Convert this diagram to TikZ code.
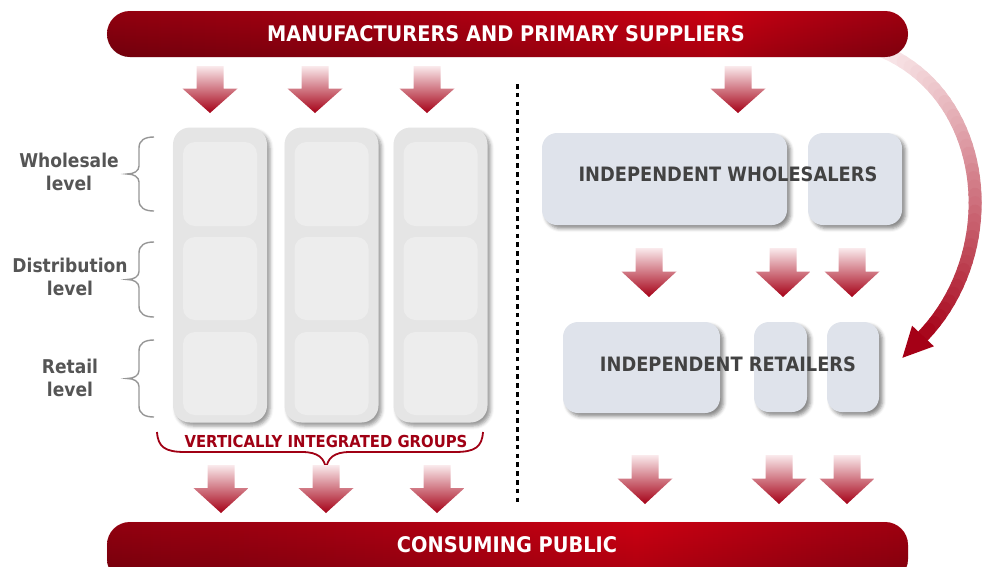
\documentclass[tikz,border=0pt]{standalone}
\usepackage{fontspec}
\setmainfont{DejaVu Sans}[FakeStretch=0.9]
\usetikzlibrary{shadows.blur}

% palette
\definecolor{barA}{RGB}{135,0,15}
\definecolor{barB}{RGB}{163,0,18}
\definecolor{barHi}{RGB}{202,0,18}
\definecolor{barC}{RGB}{150,0,16}
\definecolor{arrtop}{RGB}{250,234,236}
\definecolor{arrbot}{RGB}{165,0,22}
\definecolor{colfill}{RGB}{229,229,229}
\definecolor{cellfill}{RGB}{237,237,237}
\definecolor{boxfill}{RGB}{223,227,235}
\definecolor{labelgray}{RGB}{85,85,85}
\definecolor{boxtext}{RGB}{66,66,66}
\definecolor{bracegray}{RGB}{150,150,150}
\definecolor{groupred}{RGB}{160,0,20}

% horizontal shadings for the two banners (path is mapped onto 25bp..75bp)
\pgfdeclarehorizontalshading{topbar}{100bp}{color(0bp)=(barA); color(25bp)=(barA);
  color(45bp)=(barB); color(63bp)=(barHi); color(71bp)=(barB); color(75bp)=(barC); color(100bp)=(barC)}
\pgfdeclarehorizontalshading{botbar}{100bp}{color(0bp)=(barA); color(25bp)=(barA);
  color(42bp)=(barB); color(58bp)=(barHi); color(70bp)=(barB); color(75bp)=(barC); color(100bp)=(barC)}

\tikzset{
  banner/.style={rounded corners=23pt, inner sep=0pt},
  bannergloss/.style={rounded corners=23pt, top color=barHi, bottom color=black, opacity=0.16},
  bannertext/.style={text=white, font=\bfseries\fontsize{21.5}{24}\selectfont},
  column/.style={draw=none, fill=colfill, rounded corners=17pt, inner sep=0pt,
    blur shadow={shadow xshift=3pt, shadow yshift=-3.5pt, shadow blur radius=3.5pt, shadow opacity=40}},
  cell/.style={draw=none, fill=cellfill, rounded corners=12pt, inner sep=0pt},
  indbox/.style={draw=none, fill=boxfill, rounded corners=15pt, inner sep=0pt,
    blur shadow={shadow xshift=3.5pt, shadow yshift=-3.5pt, shadow blur radius=3.5pt, shadow opacity=45}},
  boxlabel/.style={text=boxtext, font=\bfseries\fontsize{19.8}{22}\selectfont},
  levellabel/.style={text=labelgray, align=center, font=\bfseries\fontsize{19}{23}\selectfont},
  levelbrace/.style={draw=bracegray, line width=1.4pt},
  pics/dnarrow/.style={code={
    \shade[top color=arrtop, bottom color=arrbot]
      (-13.5,0) -- (13.5,0) -- (13.5,0.48*#1) -- (27.5,0.48*#1) -- (0,#1)
      -- (-27.5,0.48*#1) -- (-13.5,0.48*#1) -- cycle;
  }},
}

\begin{document}
\begin{tikzpicture}[x=1pt,y=-1pt]
\clip (0,0) rectangle (991,566);

% ---- bypass arrow from the suppliers straight to the retailers
\path (880,50) .. controls (990,95) and (1005,250) .. (923,336)
  \foreach \i in {0,...,40} { coordinate[pos=\i/40] (q\i) };
\foreach \i in {0,...,39} {
  \pgfmathtruncatemacro\j{\i+1}
  \pgfmathtruncatemacro\p{100*(\i/40)^1.15}
  \draw[line width=13pt, line cap=round, draw=arrbot!\p!arrtop] (q\i) -- (q\j);
}
\coordinate (headL) at (912.1,325.7);
\coordinate (headR) at (933.9,346.3);
\coordinate (headTip) at (902.4,357.8);
\fill[arrbot] (headL) -- (headTip) -- (headR) -- cycle;

% ---- banners
\node[banner, minimum width=801pt, minimum height=46pt, shading=topbar, shade] (top) at (507.5,34) {};
\shade[bannergloss] (top.north west) rectangle (top.south east);
\node[bannertext] (toptext) at (506,34) {MANUFACTURERS AND PRIMARY SUPPLIERS};
\node[banner, minimum width=801pt, minimum height=60pt, shading=botbar, shade] (bottom) at (507.5,552) {};
\shade[bannergloss] (bottom.north west) rectangle (bottom.south east);
\node[bannertext] (bottext) at (507,545) {CONSUMING PUBLIC};

% ---- vertically integrated groups
\foreach \n/\cx in {1/220, 2/331.5, 3/440.5} {
  \node[column, minimum width=94pt, minimum height=295pt] (col\n) at (\cx,275) {};
  \node[cell, minimum width=74pt, minimum height=84pt] (cellW\n) at (\cx,184) {};
  \node[cell, minimum width=74pt, minimum height=83pt] (cellD\n) at (\cx,278.5) {};
  \node[cell, minimum width=74pt, minimum height=83pt] (cellR\n) at (\cx,373.5) {};
}

% ---- level braces and labels
\foreach \n/\ya/\yb in {1/137/211, 2/242/317, 3/340/417} {
  \pgfmathsetmacro\ym{(\ya+\yb)/2}
  \draw[levelbrace] (154,\ya) .. controls (145,\ya) and (139,\ya+3) .. (139,\ya+11)
    -- (139,\ym-8) .. controls (139,\ym-3) and (134,\ym) .. (127,\ym)
    .. controls (134,\ym) and (139,\ym+3) .. (139,\ym+8)
    -- (139,\yb-11) .. controls (139,\yb-3) and (145,\yb) .. (154,\yb);
}
\node[levellabel] (lvW) at (69,172) {Wholesale\\level};
\node[levellabel] (lvD) at (70,277) {Distribution\\level};
\node[levellabel] (lvR) at (70,378) {Retail\\level};

% ---- group brace and caption
\draw[draw=groupred, line width=1.8pt]
  (157,432) .. controls (158,447) and (165,452) .. (185,452) -- (302,452)
  .. controls (318,452) and (325,458) .. (326,470)
  .. controls (327,458) and (334,452) .. (350,452) -- (455,452)
  .. controls (475,452) and (482,447) .. (483,432);
\node[text=groupred, font=\bfseries\fontsize{16.5}{18}\selectfont] (vig) at (326,441) {VERTICALLY INTEGRATED GROUPS};

% ---- independent channel
\node[indbox, minimum width=245pt, minimum height=92pt] (wA) at (664.5,179) {};
\node[indbox, minimum width=94pt, minimum height=92pt] (wB) at (855,179) {};
\node[boxlabel] (wtext) at (728,174) {INDEPENDENT WHOLESALERS};
\node[indbox, minimum width=157pt, minimum height=91pt] (rA) at (641.5,367.5) {};
\node[indbox, minimum width=53pt, minimum height=90pt] (rB) at (780.5,367) {};
\node[indbox, minimum width=52pt, minimum height=90pt] (rC) at (853,367) {};
\node[boxlabel] (rtext) at (728,364) {INDEPENDENT RETAILERS};

% ---- divider
\coordinate (divtop) at (517,84);
\coordinate (divbot) at (517,506);
\draw[line width=3pt, dash pattern=on 4.5pt off 4.3pt] (divtop) -- (divbot);

% ---- block arrows
\foreach \x in {210,315,427,738} { \pic at (\x,66) {dnarrow=47}; }
\foreach \x in {221,326,437} { \pic at (\x,465) {dnarrow=48}; }
\foreach \x in {649,783,852} { \pic at (\x,248) {dnarrow=49}; }
\foreach \x in {645,779,847} { \pic at (\x,455) {dnarrow=49}; }

\end{tikzpicture}
\end{document}
